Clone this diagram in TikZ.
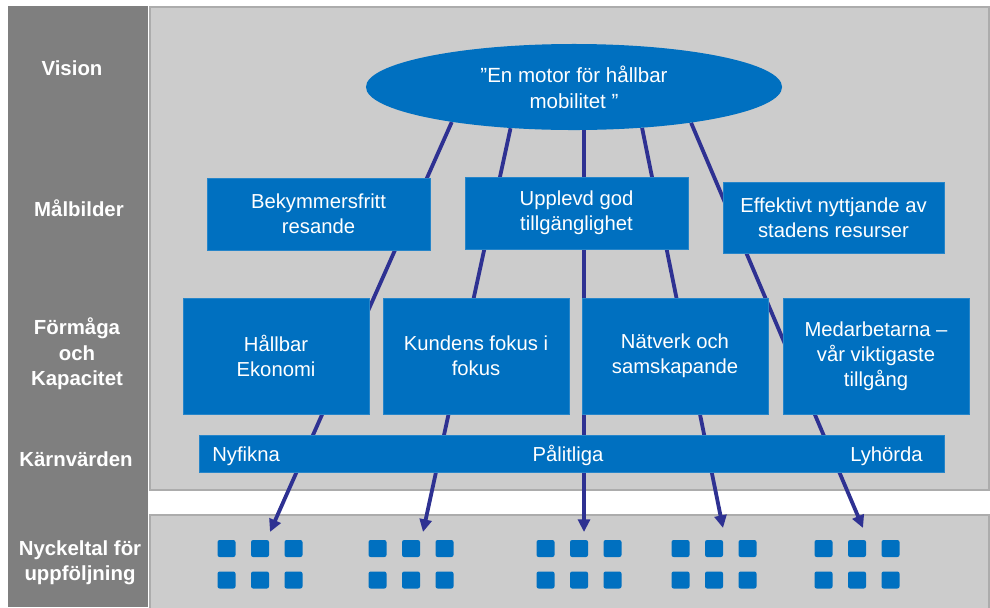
\documentclass[tikz,border=0pt]{standalone}
\usepackage{fontspec}
\setmainfont{Liberation Sans}
\usetikzlibrary{shapes.geometric,arrows.meta,positioning}

\definecolor{boxblue}{RGB}{0,112,192}
\definecolor{linkblue}{RGB}{46,49,146}
\definecolor{panelgray}{RGB}{204,204,204}
\definecolor{sidegray}{RGB}{127,127,127}
\definecolor{edgegray}{RGB}{172,172,172}

\pgfdeclarelayer{panels}
\pgfdeclarelayer{wires}
\pgfsetlayers{panels,wires,main}

\tikzset{
  sidelabel/.style={text=white, font=\bfseries\fontsize{14.5}{18}\selectfont, align=center},
  goalbox/.style={fill=boxblue, draw=boxblue!85!white, line width=0.4pt, text=white,
    font=\fontsize{14.4}{17.8}\selectfont, align=center, inner sep=0pt,
    minimum width=5.575cm, minimum height=1.8cm},
  capbox/.style={goalbox, minimum width=4.65cm, minimum height=2.9cm},
  vision/.style={ellipse, fill=boxblue, text=white, font=\fontsize{14.6}{18.5}\selectfont,
    align=center, inner sep=0pt, minimum width=10.4cm, minimum height=2.15cm},
  valtext/.style={text=white, font=\fontsize{14.4}{17.8}\selectfont, inner sep=0pt},
  link/.style={draw=linkblue, line width=2.7pt, -{Triangle[length=9pt,width=8.5pt]}},
  kpi/.style={fill=boxblue, rounded corners=1.5pt}
}

\begin{document}
\begin{tikzpicture}[x=0.025cm,y=-0.025cm]
\useasboundingbox (0,0) rectangle (990,607);

% background panels
\begin{pgfonlayer}{panels}
\fill[white] (0,0) rectangle (990,607);
\fill[sidegray] (8,6) rectangle (148,607);
\filldraw[fill=panelgray, draw=edgegray, line width=1.5pt] (150,7) rectangle (989,490);
\filldraw[fill=panelgray, draw=edgegray, line width=1.5pt] (150,515) rectangle (989,609);
\end{pgfonlayer}

% row labels
\node[sidelabel] (lv) at (72,68) {Vision};
\node[sidelabel] (lm) at (79,208) {Målbilder};
\node[sidelabel] (lf) at (77,354) {Förmåga\\och\\Kapacitet};
\node[sidelabel] (lk) at (76,459) {Kärnvärden};
\node[sidelabel] (ln) at (80,563) {Nyckeltal för\\uppföljning};

% vision
\node[vision] (vis) at (574,87) {”En motor för hållbar\\mobilitet ”};

% maalbilder
\node[goalbox] (b1) at (318.5,214) {Bekymmersfritt\\resande};
\node[goalbox] (b2) at (576.5,213) {Upplevd god\\tillgänglighet};
\node[goalbox, minimum width=5.525cm, minimum height=1.775cm] (b3) at (833.5,217.5) {Effektivt nyttjande av\\stadens resurser};

% foermaaga och kapacitet
\node[capbox] (f1) at (276,356) {Hållbar\\Ekonomi};
\node[capbox] (f2) at (476,356) {Kundens fokus i\\fokus};
\node[capbox] (f3) at (675,356) {Nätverk och\\samskapande};
\node[capbox] (f4) at (876,356) {Medarbetarna –\\vår viktigaste\\tillgång};

% kaernvaerden
\node[goalbox, minimum width=18.625cm, minimum height=0.925cm] (kv) at (571.5,453.5) {};
\node[valtext, anchor=base west] (v1) at (212,461) {Nyfikna};
\node[valtext, anchor=base] (v2) at (568,461) {Pålitliga};
\node[valtext, anchor=base east] (v3) at (923,461) {Lyhörda};

% nyckeltal
\foreach \g in {260,411,579,714,857}
  \foreach \i in {-1,0,1}
    \foreach \r in {540,571.5}
      \fill[kpi] ({\g+33.5*\i-9},\r) rectangle ++(18,17);

\coordinate (k1) at (270,532);
\coordinate (k2) at (423,532);
\coordinate (k3) at (584,532);
\coordinate (k4) at (723,528);
\coordinate (k5) at (863,528);

% connectors behind the boxes
\begin{pgfonlayer}{wires}
\draw[link] (vis.196) -- (k1);
\draw[link] (vis.213) -- (k2);
\draw[link] (vis.283) -- (k3);
\draw[link] (vis.329) -- (k4);
\draw[link] (vis.343.5) -- (k5);
\end{pgfonlayer}
\end{tikzpicture}
\end{document}
